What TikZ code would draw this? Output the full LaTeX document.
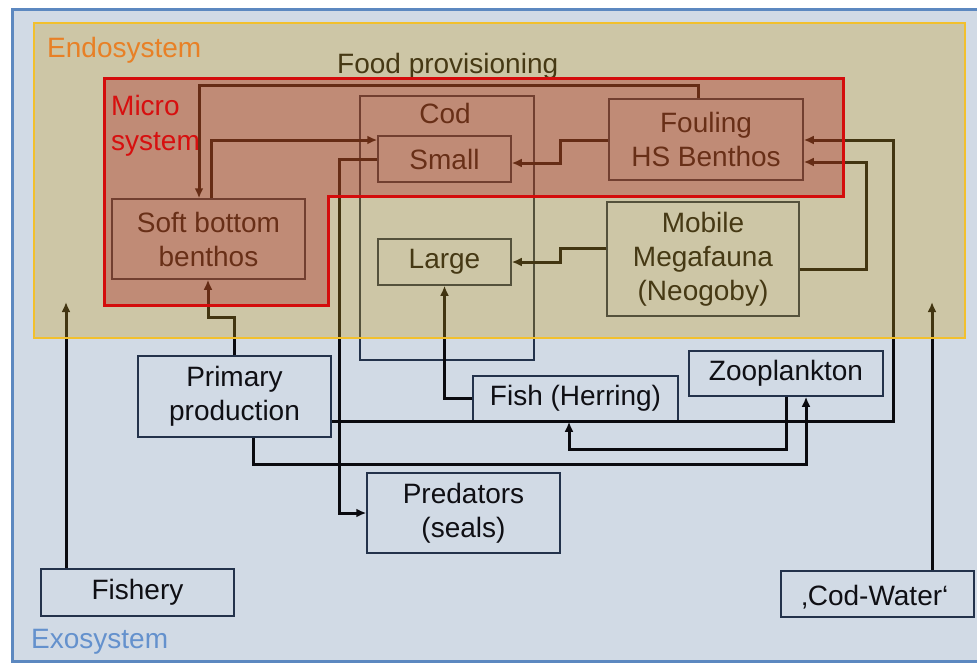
\documentclass[tikz,border=0pt]{standalone}
\usepackage{fontspec}
\setmainfont{Liberation Sans}
\usetikzlibrary{arrows.meta}
\definecolor{exofill}{RGB}{209,218,229}
\definecolor{exoborder}{RGB}{92,136,192}
\definecolor{endotint}{RGB}{198,155,23}
\definecolor{endoborder}{RGB}{242,192,45}
\definecolor{microtint}{RGB}{170,30,30}
\definecolor{microborder}{RGB}{212,12,12}
\definecolor{conncol}{RGB}{10,10,15}
\definecolor{boxcol}{RGB}{35,50,75}
\definecolor{txtcol}{RGB}{15,15,20}
\definecolor{endotxt}{RGB}{232,128,38}
\definecolor{microtxt}{RGB}{215,15,15}
\definecolor{exotxt}{RGB}{100,145,205}
\tikzset{
  box/.style={draw=boxcol, line width=1.5pt, inner sep=0pt, align=center, text=txtcol,
    font=\fontsize{28}{34}\selectfont},
  conn/.style={draw=conncol, line width=3pt, -{Latex[length=10pt,width=9pt]}},
  lbl/.style={inner sep=0pt, font=\fontsize{28}{34}\selectfont}
}
\begin{document}
\begin{tikzpicture}[x=1pt,y=-1pt]
\useasboundingbox (0,0) rectangle (977,665);
% exosystem background
\draw[fill=exofill, draw=exoborder, line width=3pt] (12,9) rectangle (995,661);
% nodes
\node[box, minimum width=174pt, minimum height=264pt] (cod) at (447,228) {};
\node[lbl, anchor=base, text=txtcol] (codlbl) at (445,123) {Cod};
\node[box, minimum width=193pt, minimum height=80pt] (sbb) at (208.5,239) {Soft bottom\\benthos};
\node[box, minimum width=133pt, minimum height=46pt] (small) at (444.5,159) {Small};
\node[box, minimum width=133pt, minimum height=46pt] (large) at (444.5,262) {Large};
\node[box, minimum width=194pt, minimum height=81pt] (foul) at (706,139.5) {Fouling\\HS Benthos};
\node[box, minimum width=192pt, minimum height=114pt] (mm) at (703,259) {Mobile\\Megafauna\\(Neogoby)};
\node[box, minimum width=193pt, minimum height=81pt] (pp) at (234.5,396.5) {Primary\\production};
\node[box, minimum width=205pt, minimum height=45pt] (fish) at (575.5,398.5) {Fish (Herring)};
\node[box, minimum width=194pt, minimum height=45pt] (zoo) at (786,373.5) {Zooplankton};
\node[box, minimum width=193pt, minimum height=80pt] (pred) at (463.5,513) {Predators\\(seals)};
\node[box, minimum width=193pt, minimum height=47pt] (fishery) at (137.5,592.5) {Fishery};
\node[box, minimum width=193pt, minimum height=46pt] (codw) at (877.5,594) {};
\node[lbl, anchor=base, text=txtcol] (codwlbl) at (875,605) {‚Cod-Water‘};
\node[lbl, anchor=base west, text=txtcol] (foodlbl) at (337,73) {Food provisioning};
\coordinate (fishtip) at (66,302);
\coordinate (cwtip) at (932,302);
% connectors
\draw[conn] ([xshift=-71.5pt]fishery.north) -- (fishtip);
\draw[conn] ([xshift=54.5pt]codw.north) -- (cwtip);
\draw[conn] (pp.north) -- (234.5,317) -| ([xshift=-0.5pt]sbb.south);
\draw[conn] ([xshift=3pt]sbb.north) |- ([yshift=19pt]small.west);
\draw[conn] ([xshift=-8pt]foul.north) -- ++(0,-13) -| ([xshift=-9.5pt]sbb.north);
\draw[conn] ([yshift=-0.5pt]foul.west) -- (560,140) |- ([yshift=-4pt]small.east);
\draw[conn] ([yshift=11pt]mm.west) -- (560,248) |- (large.east);
\draw[conn] ([yshift=-10pt]mm.east) -- (866,269) |- ([yshift=-22.5pt]foul.east);
\draw[conn] ([yshift=-24.5pt]pp.east) -- (893,421) |- ([yshift=-0.5pt]foul.east);
\draw[conn] ([xshift=18.5pt]pp.south) -- (253,464) -| ([xshift=20pt]zoo.south);
\draw[conn] (zoo.south) -- (786,449) -| ([xshift=-6.5pt]fish.south);
\draw[conn] (fish.west) -| (large.south);
\draw[conn] (small.west) -- (339,159) |- (pred.west);
% endosystem overlay
\fill[endotint, opacity=0.3] (34,23) rectangle (965,338);
% micro system overlay
\fill[microtint, opacity=0.35] (104,78) -- (843,78) -- (843,196) -- (328,196) -- (328,305) -- (104,305) -- cycle;
\draw[microborder, line width=3pt, line join=miter] (104,78) -- (843,78) -- (843,196) -- (328,196) -- (328,305) -- (104,305) -- cycle;
\draw[endoborder, line width=2.5pt] (34,23) rectangle (965,338);
% labels
\node[lbl, anchor=base west, text=endotxt] (endolbl) at (47,57) {Endosystem};
\node[lbl, anchor=base west, text=microtxt] (microlbl1) at (111,115) {Micro};
\node[lbl, anchor=base west, text=microtxt] (microlbl2) at (111,150) {system};
\node[lbl, anchor=base west, text=exotxt] (exolbl) at (31,648) {Exosystem};
\end{tikzpicture}
\end{document}
